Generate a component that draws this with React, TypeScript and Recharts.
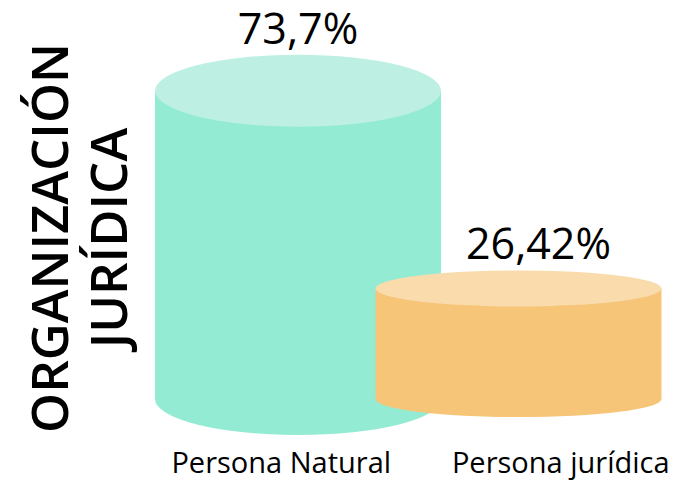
import { BarChart, Bar, XAxis, YAxis, LabelList } from "recharts";

// datos
const categories = ["Persona Natural", "Persona jurídica"];
const percentages = [73.7, 26.42];
const valueLabels = ["73,7%", "26,42%"];
const axisTitle = ["ORGANIZACIÓN", "JURÍDICA"];

// estilos por cilindro
const SIDE_COLORS = ["#93ebd4", "#f6c577"];
const TOP_COLORS = ["#bdf0e3", "#f9dbac"];
const ELLIPSE_RY = [36, 18];
const CYL_WIDTH = 286;
const TICK_DX = [-17, 42];
const LABEL_DX = [0, 20];

const FONT = "'Open Sans', 'Noto Sans', sans-serif";

const chartData = categories.map((name, i) => ({
    name,
    value: percentages[i],
    label: valueLabels[i]
}));

// cilindro más ancho que la banda, centrado en la barra
const Cylinder = (props: any) => {
    const { x, y, width, height, index } = props;
    const cx = x + width / 2;
    const rx = CYL_WIDTH / 2;
    const left = cx - rx;
    const ry = ELLIPSE_RY[index];
    const bottom = y + height;
    const side = `M ${left} ${y} L ${left} ${bottom} A ${rx} ${ry} 0 0 0 ${left + CYL_WIDTH} ${bottom} L ${left + CYL_WIDTH} ${y} Z`;
    return (
        <g>
            <path d={side} fill={SIDE_COLORS[index]} />
            <ellipse cx={cx} cy={y} rx={rx} ry={ry} fill={TOP_COLORS[index]} />
        </g>
    );
};

const ValueLabel = (props: any) => {
    const { x, y, width, index, value } = props;
    return (
        <text
            x={x + width / 2 + LABEL_DX[index]}
            y={y - ELLIPSE_RY[index] - 11}
            textAnchor="middle"
            fontFamily={FONT}
            fontSize={43}
            fill="#000"
        >
            {value}
        </text>
    );
};

const CategoryTick = (props: any) => {
    const { x, y, payload, index } = props;
    return (
        <text
            x={x + TICK_DX[index]}
            y={y + 66}
            textAnchor="middle"
            fontFamily={FONT}
            fontSize={29}
            fill="#000"
        >
            {payload.value}
        </text>
    );
};

const AxisTitle = () => {
    const cy = 238;
    return (
        <g fontFamily={FONT} fontWeight={600} fontSize={51} fill="#000" textAnchor="middle">
            <text x={68} y={cy} transform={`rotate(-90, 68, ${cy})`}>{axisTitle[0]}</text>
            <text x={127} y={cy} transform={`rotate(-90, 127, ${cy})`}>{axisTitle[1]}</text>
        </g>
    );
};

export default function App() {
    return (
        <div style={{ position: "absolute", left: 0, top: 0, width: 685, height: 480, background: "#fff" }}>
            <BarChart
                width={685}
                height={480}
                data={chartData}
                margin={{ top: 10, right: 56, left: 0, bottom: 0 }}
                barSize={200}
            >
                <XAxis
                    dataKey="name"
                    height={81}
                    axisLine={false}
                    tickLine={false}
                    interval={0}
                    tick={<CategoryTick />}
                />
                <YAxis
                    width={188}
                    domain={[0, 93]}
                    tick={false}
                    axisLine={false}
                    tickLine={false}
                    label={<AxisTitle />}
                />
                <Bar dataKey="value" shape={<Cylinder />} isAnimationActive={false}>
                    <LabelList dataKey="label" content={<ValueLabel />} />
                </Bar>
            </BarChart>
        </div>
    );
}
